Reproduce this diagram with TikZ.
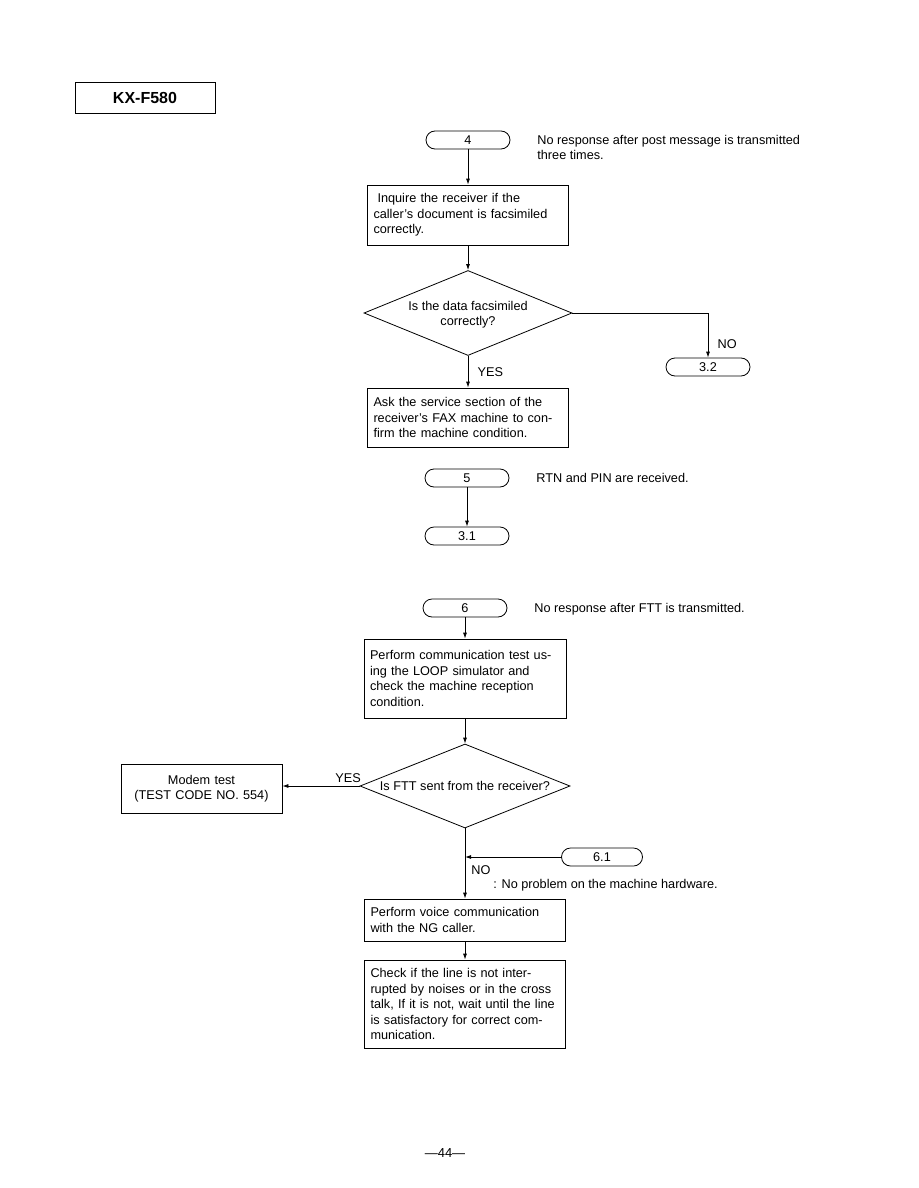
\documentclass[tikz,border=0pt]{standalone}
\usepackage{fontspec}
\setmainfont{Liberation Sans}
\usetikzlibrary{shapes.geometric,arrows.meta}
\begin{document}
\begin{tikzpicture}[x=1pt, y=-1pt, line width=0.8pt,
    txt/.style={font=\fontsize{12.7}{15.5}\selectfont},
    term/.style={txt, draw, rounded corners=9pt, minimum width=84pt, minimum height=18pt, inner sep=0pt},
    stepbox/.style={txt, draw, align=left, text width=#1, inner sep=6pt},
    decide/.style={draw, diamond, inner sep=0pt, minimum width=#1, minimum height=85pt},
    note/.style={txt, anchor=west, align=left, inner sep=0pt},
    flow/.style={-{Latex[length=6pt,width=4pt]}}]
\useasboundingbox (0,0) rectangle (918,1188);
\node[draw, minimum width=140pt, minimum height=31pt, font=\fontsize{16}{19}\selectfont\bfseries] (title) at (145,97.5) {KX-F580};
% part 4
\node[term] (t4) at (468,140) {4};
\node[note] (n4) at (537,147.5) {No response after post message is transmitted\\three times.};
\node[stepbox=189pt, minimum height=60pt] (b1) at (468,215) {\hspace*{4pt}Inquire the receiver if the\\caller's document is facsimiled\\correctly.};
\node[decide=208pt] (d1) at (468,313) {};
\node[txt, align=center] (q1) at (468,314.5) {Is the data facsimiled\\correctly?};
\node[term] (t32) at (708,367) {3.2};
\node[stepbox=189pt, minimum height=59pt] (b2) at (468,417.5) {Ask the service section of the\\receiver's FAX machine to con-\\firm the machine condition.};
\draw[flow] (t4) -- (b1);
\draw[flow] (b1) -- (d1);
\draw[flow] (d1.east) -| node[pos=0.85, right=6pt, txt] (no1) {NO} (t32);
\draw[flow] (d1) -- node[right=6pt, txt] (yes1) {YES} (b2);
% part 5
\node[term] (t5) at (467,478) {5};
\node[note] (n5) at (536,478) {RTN and PIN are received.};
\node[term] (t31) at (467,536) {3.1};
\draw[flow] (t5) -- (t31);
% part 6
\node[term] (t6) at (465,608) {6};
\node[note] (n6) at (534,609) {No response after FTT is transmitted.};
\node[stepbox=190pt, minimum height=79pt] (b3) at (465,678.5) {Perform communication test us-\\ing the LOOP simulator and\\check the machine reception\\condition.};
\node[decide=210pt, minimum height=84pt] (d2) at (465,786) {};
\node[txt] (q2) at (465,786) {Is FTT sent from the receiver?};
\node[txt, draw, align=center, text width=149pt, inner sep=6pt, minimum height=49pt] (modem) at (201.5,788.5) {Modem test\\(TEST CODE NO. 554)};
\node[term, minimum width=81pt] (t61) at (602,857) {6.1};
\node[note] (no2) at (471,870) {NO};
\node[note] (hw) at (493,885) {: No problem on the machine hardware.};
\node[stepbox=189pt, minimum height=42pt] (b4) at (465,920) {Perform voice communication\\with the NG caller.};
\node[stepbox=189pt, minimum height=88pt] (b5) at (465,1004) {Check if the line is not inter-\\rupted by noises or in the cross\\talk, If it is not, wait until the line\\is satisfactory for correct com-\\munication.};
\draw[flow] (t6) -- (b3);
\draw[flow] (b3) -- (d2);
\draw[flow] (d2.west) -- node[pos=0.15, above=0pt, txt] (yes2) {YES} (d2.west -| modem.east);
\draw[flow] (d2) -- (b4);
\draw[flow] (t61) -- (t61 -| d2);
\draw[flow] (b4) -- (b5);
\node[font=\fontsize{13}{15}\selectfont] (page) at (445,1153) {—44—};
\end{tikzpicture}
\end{document}
